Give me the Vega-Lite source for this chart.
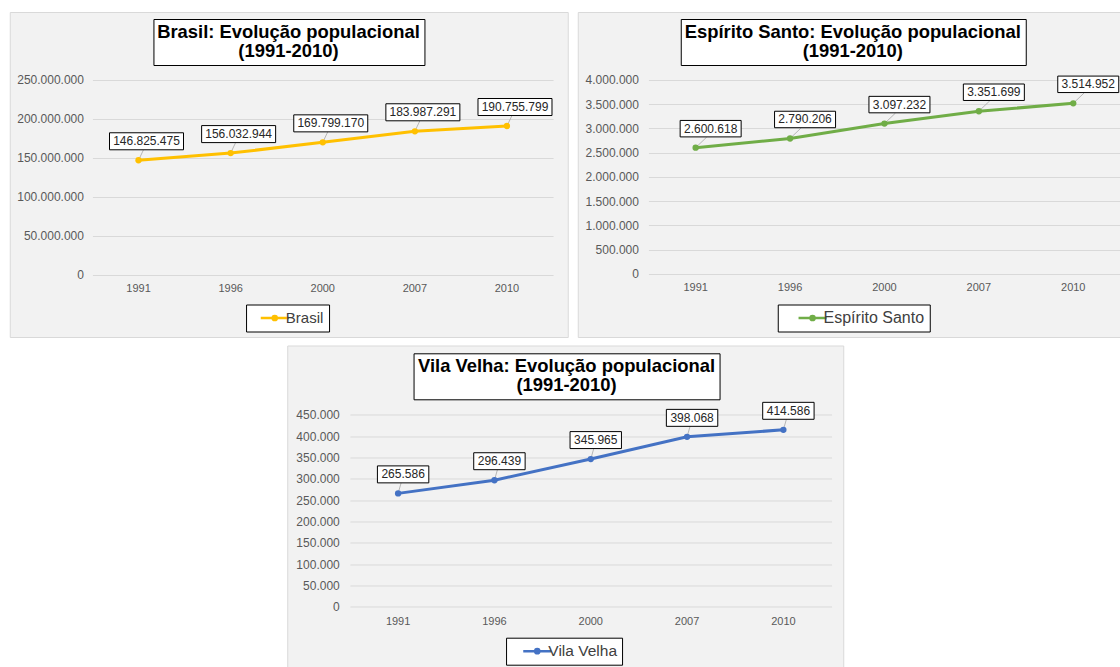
{
  "$schema": "https://vega.github.io/schema/vega-lite/v6.json",
  "background": "white",
  "padding": {"left": 8.5, "top": 11, "right": 0, "bottom": 0},
  "datasets": {
    "brasil": [
      {"ano": "1991", "pop": 146825475, "serie": "Brasil"},
      {"ano": "1996", "pop": 156032944, "serie": "Brasil"},
      {"ano": "2000", "pop": 169799170, "serie": "Brasil"},
      {"ano": "2007", "pop": 183987291, "serie": "Brasil"},
      {"ano": "2010", "pop": 190755799, "serie": "Brasil"}
    ],
    "es": [
      {"ano": "1991", "pop": 2600618, "serie": "Espírito Santo"},
      {"ano": "1996", "pop": 2790206, "serie": "Espírito Santo"},
      {"ano": "2000", "pop": 3097232, "serie": "Espírito Santo"},
      {"ano": "2007", "pop": 3351699, "serie": "Espírito Santo"},
      {"ano": "2010", "pop": 3514952, "serie": "Espírito Santo"}
    ],
    "vv": [
      {"ano": "1991", "pop": 265586, "serie": "Vila Velha"},
      {"ano": "1996", "pop": 296439, "serie": "Vila Velha"},
      {"ano": "2000", "pop": 345965, "serie": "Vila Velha"},
      {"ano": "2007", "pop": 398068, "serie": "Vila Velha"},
      {"ano": "2010", "pop": 414586, "serie": "Vila Velha"}
    ]
  },
  "vconcat": [
    {
      "hconcat": [
        {
          "width": 558,
          "height": 325,
          "data": {"name": "brasil"},
          "encoding": {
            "x": {"field": "ano", "type": "ordinal", "title": null,
                  "scale": {"type": "band", "range": [82.7, 543.3]},
                  "axis": {"offset": -62.2, "labelPadding": 8}},
            "y": {"field": "pop", "type": "quantitative", "title": null,
                  "scale": {"domain": [0, 250000000], "range": [262.8, 67.8], "nice": false},
                  "axis": {"offset": -82.7, "labelPadding": 9, "format": ",d",
                           "values": [0, 50000000, 100000000, 150000000, 200000000, 250000000]}}
          },
          "layer": [
            {"mark": {"type": "rule", "color": "#a6a6a6", "strokeWidth": 0.8, "x2Offset": 5, "y2Offset": -10.5},
             "encoding": {"x2": {"field": "ano"}, "y2": {"field": "pop"}}},
            {"mark": {"type": "line", "strokeWidth": 3},
             "encoding": {"color": {"field": "serie", "type": "nominal",
                                    "scale": {"range": ["#ffc000"]},
                                    "legend": {"orient": "none", "legendX": 236.3, "legendY": 292.5,
                                               "labelExpr": "datum.label + ' '", "labelOffset": 17.8,
                                               "encode": {"symbols": {"update": {"fill": {"value": "#ffc000"}, "stroke": {"value": "#ffc000"}, "x": {"value": 23.7}}}}}}}},
            {"mark": {"type": "point", "filled": true, "size": 40, "opacity": 1, "color": "#ffc000"}},
            {"mark": {"type": "point", "shape": "M-1,-0.23H1V0.23H-1Z", "size": 5476, "filled": true,
                      "fill": "white", "stroke": "black", "strokeWidth": 1, "opacity": 1,
                      "xOffset": 8, "yOffset": -19}},
            {"mark": {"type": "text", "fontSize": 12, "color": "#262626", "baseline": "middle",
                      "xOffset": 8, "yOffset": -19},
             "encoding": {"text": {"field": "pop", "type": "quantitative", "format": ",d"}}},
            {"mark": {"type": "point", "opacity": 0},
             "encoding": {"shape": {"datum": "Brasil",
                                    "legend": {"orient": "none", "legendX": 143.7, "legendY": 7,
                                               "title": ["Brasil: Evolução populacional", "(1991-2010)"],
                                               "labelExpr": "''", "labelFontSize": 1, "labelOffset": 0,
                                               "symbolSize": 0, "symbolStrokeWidth": 0, "symbolOpacity": 0,
                                               "padding": 4}}}}
          ]
        },
        {
          "width": 543,
          "height": 325,
          "data": {"name": "es"},
          "encoding": {
            "x": {"field": "ano", "type": "ordinal", "title": null,
                  "scale": {"type": "band", "range": [70.7, 542.7]},
                  "axis": {"offset": -63.2, "labelPadding": 8}},
            "y": {"field": "pop", "type": "quantitative", "title": null,
                  "scale": {"domain": [0, 4000000], "range": [261.8, 67.8], "nice": false},
                  "axis": {"offset": -70.7, "labelPadding": 10, "format": ",d",
                           "values": [0, 500000, 1000000, 1500000, 2000000, 2500000, 3000000, 3500000, 4000000]}}
          },
          "layer": [
            {"mark": {"type": "rule", "color": "#a6a6a6", "strokeWidth": 0.8, "x2Offset": 11, "y2Offset": -10.5},
             "encoding": {"x2": {"field": "ano"}, "y2": {"field": "pop"}}},
            {"mark": {"type": "line", "strokeWidth": 3},
             "encoding": {"color": {"field": "serie", "type": "nominal",
                                    "scale": {"range": ["#70ad47"]},
                                    "legend": {"orient": "none", "legendX": 200, "legendY": 292.5,
                                               "labelExpr": "datum.label + '  '", "labelFontSize": 16, "labelOffset": 23.8,
                                               "encode": {"symbols": {"update": {"fill": {"value": "#70ad47"}, "stroke": {"value": "#70ad47"}, "x": {"value": 29.8}}}}}}}},
            {"mark": {"type": "point", "filled": true, "size": 40, "opacity": 1, "color": "#70ad47"}},
            {"mark": {"type": "point", "shape": "M-1,-0.27H1V0.27H-1Z", "size": 3721, "filled": true,
                      "fill": "white", "stroke": "black", "strokeWidth": 1, "opacity": 1,
                      "xOffset": 15, "yOffset": -19}},
            {"mark": {"type": "text", "fontSize": 12, "color": "#262626", "baseline": "middle",
                      "xOffset": 15, "yOffset": -19},
             "encoding": {"text": {"field": "pop", "type": "quantitative", "format": ",d"}}},
            {"mark": {"type": "point", "opacity": 0},
             "encoding": {"shape": {"datum": "Espírito Santo",
                                    "legend": {"orient": "none", "legendX": 103, "legendY": 7,
                                               "title": ["Espírito Santo: Evolução populacional", "(1991-2010)"],
                                               "labelExpr": "''", "labelFontSize": 1, "labelOffset": 0,
                                               "symbolSize": 0, "symbolStrokeWidth": 0, "symbolOpacity": 0,
                                               "padding": 4}}}}
          ]
        }
      ],
      "spacing": 8,
      "resolve": {"scale": {"x": "independent", "y": "independent", "color": "independent", "shape": "independent"},
                  "legend": {"color": "independent", "shape": "independent"}}
    },
    {
      "width": 556,
      "height": 322,
      "data": {"name": "vv"},
      "encoding": {
        "x": {"field": "ano", "type": "ordinal", "title": null,
              "scale": {"type": "band", "range": [62.7, 544.3]},
              "axis": {"offset": -60.8, "labelPadding": 9}},
        "y": {"field": "pop", "type": "quantitative", "title": null,
              "scale": {"domain": [0, 450000], "range": [261.2, 69.2], "nice": false},
              "axis": {"offset": -62.7, "labelPadding": 10.7, "format": ",d",
                       "values": [0, 50000, 100000, 150000, 200000, 250000, 300000, 350000, 400000, 450000]}}
      },
      "layer": [
        {"mark": {"type": "rule", "color": "#a6a6a6", "strokeWidth": 0.8, "x2Offset": 3, "y2Offset": -10.5},
         "encoding": {"x2": {"field": "ano"}, "y2": {"field": "pop"}}},
        {"mark": {"type": "line", "strokeWidth": 3},
         "encoding": {"color": {"field": "serie", "type": "nominal",
                                "scale": {"range": ["#4472c4"]},
                                "legend": {"orient": "none", "legendX": 218.8, "legendY": 292.2,
                                           "labelExpr": "datum.label + ' '", "labelFontSize": 15.5, "labelOffset": 20.3,
                                           "encode": {"symbols": {"update": {"fill": {"value": "#4472c4"}, "stroke": {"value": "#4472c4"}, "x": {"value": 26.2}}}}}}}},
        {"mark": {"type": "point", "filled": true, "size": 40, "opacity": 1, "color": "#4472c4"}},
        {"mark": {"type": "point", "shape": "M-1,-0.33H1V0.33H-1Z", "size": 2642, "filled": true,
                  "fill": "white", "stroke": "black", "strokeWidth": 1, "opacity": 1,
                  "xOffset": 5, "yOffset": -19}},
        {"mark": {"type": "text", "fontSize": 12, "color": "#262626", "baseline": "middle",
                  "xOffset": 5, "yOffset": -19},
         "encoding": {"text": {"field": "pop", "type": "quantitative", "format": ",d"}}},
        {"mark": {"type": "point", "opacity": 0},
         "encoding": {"shape": {"datum": "Vila Velha",
                                "legend": {"orient": "none", "legendX": 126.3, "legendY": 7.8,
                                           "title": ["Vila Velha: Evolução populacional", "(1991-2010)"],
                                           "labelExpr": "''", "labelFontSize": 1, "labelOffset": 0,
                                           "symbolSize": 0, "symbolStrokeWidth": 0, "symbolOpacity": 0,
                                           "padding": 4}}}}
      ]
    }
  ],
  "spacing": 6.5,
  "center": true,
  "resolve": {"scale": {"x": "independent", "y": "independent", "color": "independent", "shape": "independent"},
              "legend": {"color": "independent", "shape": "independent"}},
  "config": {
    "locale": {"number": {"decimal": ",", "thousands": ".", "grouping": [3], "currency": ["R$", ""]}},
    "font": "Liberation Sans",
    "view": {"fill": "#f2f2f2", "stroke": "#d9d9d9"},
    "axis": {"domain": false, "ticks": false, "tickSize": 0, "gridColor": "#d9d9d9", "gridWidth": 1,
             "labelColor": "#595959", "labelFont": "Liberation Sans", "labelOverlap": false},
    "axisX": {"grid": false, "labelFontSize": 11, "labelAngle": 0},
    "axisY": {"grid": true, "labelFontSize": 12},
    "legend": {
      "direction": "horizontal",
      "fillColor": "white",
      "strokeColor": "black",
      "padding": 5,
      "title": null,
      "titleFont": "Liberation Sans",
      "titleFontSize": 18.4,
      "titleFontWeight": "bold",
      "titleColor": "black",
      "titleAlign": "center",
      "titleAnchor": "middle",
      "titleLineHeight": 19,
      "titlePadding": 0,
      "titleLimit": 1000,
      "labelFont": "Liberation Sans",
      "labelFontSize": 15,
      "labelColor": "#404040",
      "labelLimit": 1000,
      "labelOffset": 18.8,
      "symbolType": "M-2,0H2M-0.3,0A0.3,0.3,0,1,1,0.3,0A0.3,0.3,0,1,1,-0.3,0Z",
      "symbolSize": 196,
      "symbolStrokeWidth": 2.5
    }
  }
}
